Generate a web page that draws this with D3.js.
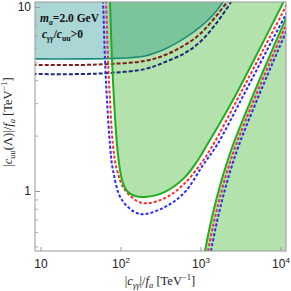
<!DOCTYPE html>
<html><head><meta charset="utf-8">
<script src="https://cdn.jsdelivr.net/npm/d3@7"></script>
<style>body{margin:0;background:#fff}svg{display:block}</style>
</head><body><div id="chart"></div>
<script>
// ---- data (c_gg/f_a [TeV^-1], |c_uu|/f_a [TeV^-1]) ----
const xTicks = [10, 100, 1000, 10000];
const xTickBase = ["10", "10", "10", "10"];
const xTickExp = ["", "2", "3", "4"];
const yTicks = [1, 10];
const yTickLabels = ["1", "10"];
const yMinor = [0.5, 0.6, 0.7, 0.8, 0.9, 2, 3, 4, 5, 6, 7, 8, 9];

// green contour (U-shaped region)
const greenU = [[73.5,11.5],[73.9,10.64],[78.3,5.15],[82.9,3.12],[90.4,1.78],[98.6,1.30],[107.4,1.105],[124,0.988],[152,0.939],[202,0.928],[360,0.99],[640,1.19],[931,1.474],[1205,1.778],[1754,2.34],[2547,3.12],[5236,5.69],[10440,10.25],[12000,11.6]];
const redU = [[65,11.5],[65.9,10.64],[69.8,5.15],[73.9,3.12],[80.5,1.778],[90.4,1.30],[113.8,1.0125],[185.6,0.861],[360,0.916],[640,1.105],[1044,1.437],[1433,1.778],[2858,3.12],[5875,5.69],[12050,10.38],[13500,11.6]];
const blueU = [[59.5,11.5],[60.4,10.64],[64.0,5.15],[67.8,3.12],[73.9,1.778],[80.5,1.30],[104.4,0.893],[175.2,0.750],[360,0.819],[640,0.988],[1075,1.384],[1607,1.778],[3207,3.12],[6592,5.69],[13520,10.38],[15000,11.6]];
// green contour (right branch)
const greenR = [[1106,0.444],[1138,0.472],[1315,0.645],[1571,0.893],[1950,1.252],[2547,1.778],[4276,3.12],[7390,5.48],[13000,9.63]];
const redR = [[1205,0.444],[1241,0.472],[1433,0.645],[1714,0.893],[2126,1.252],[2779,1.778],[4665,3.12],[8054,5.48],[14170,9.63]];
const blueR = [[1315,0.444],[1352,0.472],[1563,0.645],[1867,0.893],[2317,1.252],[3029,1.778],[5085,3.12],[8790,5.48],[15450,9.63]];
// teal bound and dashed variants
const tealB = [[8.0,5.22],[31.2,5.22],[73.9,5.25],[202,5.42],[360,5.91],[640,6.79],[986,7.78],[1393,8.93],[1911,10.64],[2050,11.3]];
const brownB = [[8.0,4.84],[31.2,4.84],[73.9,4.90],[202,5.09],[360,5.48],[640,6.22],[986,7.13],[1393,8.39],[2143,10.64],[2300,11.3]];
const navyB = [[8.0,4.32],[31.2,4.32],[73.9,4.38],[202,4.60],[360,5.02],[640,5.62],[986,6.45],[1518,7.98],[2405,10.64],[2580,11.3]];

const W = 291, H = 291;
const M = {l: 35, r: 286, t: 2, b: 251};
const x = d3.scaleLog().domain([8.531, 11722]).range([M.l, M.r]);
const y = d3.scaleLog().domain([0.4721, 10.64]).range([M.b, M.t]);

const svg = d3.select("#chart").append("svg").attr("width", W).attr("height", H)
  .style("font-family", "'Liberation Serif', 'DejaVu Serif', serif");
const defs = svg.append("defs");
defs.append("clipPath").attr("id", "plot").append("rect")
  .attr("x", M.l).attr("y", M.t).attr("width", M.r - M.l).attr("height", M.b - M.t);

const line = d3.line().x(d => x(d[0])).y(d => y(d[1])).curve(d3.curveCatmullRom.alpha(0.5));
const P = (a, b) => `L${x(a)},${y(b)}`;

const uPath = line(greenU) + "Z";
const rPath = line(greenR) + P(30000, 9.63) + P(30000, 0.3) + P(900, 0.3) + "Z";
const tPath = line(tealB) + P(2050, 15) + P(5, 15) + P(5, 5.22) + "Z";

defs.append("clipPath").attr("id", "uclip").append("path").attr("d", uPath);

const g = svg.append("g").attr("clip-path", "url(#plot)");
g.append("path").attr("d", uPath).attr("fill", "#b3e2ad");
g.append("path").attr("d", rPath).attr("fill", "#b3e2ad");
g.append("path").attr("d", tPath).attr("fill", "#aad6d5");
g.append("g").attr("clip-path", "url(#uclip)")
  .append("path").attr("d", tPath).attr("fill", "#7cc59b");

const dashed = [
  [brownB, "#7d1d1d", "4,2"], [navyB, "#1c2a7a", "4,2"],
  [blueU, "#2a2aff", "3,2"], [redU, "#ff2a2a", "3,2"],
  [blueR, "#2a2aff", "3,2"], [redR, "#ff2a2a", "3,2"]
];
dashed.forEach(([d, c, da]) => g.append("path").attr("d", line(d)).attr("fill", "none")
  .attr("stroke", c).attr("stroke-width", 2).attr("stroke-dasharray", da));
g.append("path").attr("d", line(tealB)).attr("fill", "none").attr("stroke", "#1a8c7c").attr("stroke-width", 1.6);
g.append("path").attr("d", line(greenU)).attr("fill", "none").attr("stroke", "#1fae1f").attr("stroke-width", 2);
g.append("path").attr("d", line(greenR)).attr("fill", "none").attr("stroke", "#1fae1f").attr("stroke-width", 2);

// frame
svg.append("rect").attr("x", M.l).attr("y", M.t).attr("width", M.r - M.l).attr("height", M.b - M.t)
  .attr("fill", "none").attr("stroke", "#999").attr("stroke-width", 1);

// axes
const xa = svg.append("g").attr("transform", `translate(0,${M.b})`)
  .call(d3.axisBottom(x).tickValues(xTicks).tickSizeInner(-4).tickSizeOuter(0).tickPadding(8).tickFormat(""));
xa.select(".domain").remove();
xa.selectAll(".tick line").attr("stroke", "#999");
xa.selectAll(".tick text").each(function(d, i) {
  const t = d3.select(this).attr("font-size", 12).attr("fill", "#222").attr("dy", "0.71em");
  t.append("tspan").text(xTickBase[i]);
  if (xTickExp[i]) t.append("tspan").attr("font-size", 8).attr("dy", -5).text(xTickExp[i]);
});

const ya = svg.append("g").attr("transform", `translate(${M.l},0)`)
  .call(d3.axisLeft(y).tickValues(yTicks).tickSizeInner(-5).tickSizeOuter(0).tickPadding(4)
    .tickFormat((d, i) => yTickLabels[i]));
ya.select(".domain").remove();
ya.selectAll(".tick line").attr("stroke", "#999");
ya.selectAll(".tick text").attr("font-size", 12).attr("fill", "#222");
const ym = svg.append("g").attr("transform", `translate(${M.l},0)`)
  .call(d3.axisLeft(y).tickValues(yMinor).tickSizeInner(-3).tickSizeOuter(0).tickFormat(""));
ym.select(".domain").remove();
ym.selectAll(".tick line").attr("stroke", "#aaa");

function rich(t, parts, fs) {
  let base = 0;
  parts.forEach(p => {
    const s = t.append("tspan").text(p.t);
    let off = p.sub ? 3 : p.sup ? -5 : 0;
    s.attr("dy", off - base); base = off;
    if (p.sub || p.sup) s.attr("font-size", fs * 0.68);
    if (p.i) s.attr("font-style", "italic");
  });
}

// axis titles
const xt = svg.append("text").attr("x", 160).attr("y", 285).attr("text-anchor", "middle")
  .attr("font-size", 12.5).attr("fill", "#222");
rich(xt, [{t: "|"}, {t: "c", i: 1}, {t: "γγ", sub: 1, i: 1}, {t: "|/"}, {t: "f", i: 1}, {t: "a", sub: 1, i: 1},
  {t: " [TeV"}, {t: "−1", sup: 1}, {t: "]"}], 12.5);
const yt = svg.append("text").attr("transform", "translate(12,122) rotate(-90)").attr("text-anchor", "middle")
  .attr("font-size", 12.5).attr("fill", "#222");
rich(yt, [{t: "|"}, {t: "c", i: 1}, {t: "uu", sub: 1}, {t: "(Λ)|/"}, {t: "f", i: 1}, {t: "a", sub: 1, i: 1},
  {t: " [TeV"}, {t: "−1", sup: 1}, {t: "]"}], 12.5);

// annotations
const a1 = svg.append("text").attr("x", 40).attr("y", 22).attr("font-size", 11.5).attr("font-weight", "bold").attr("fill", "#111");
rich(a1, [{t: "m", i: 1}, {t: "a", sub: 1, i: 1}, {t: "=2.0 GeV"}], 11.5);
const a2 = svg.append("text").attr("x", 42).attr("y", 38).attr("font-size", 11.5).attr("font-weight", "bold").attr("fill", "#111");
rich(a2, [{t: "c", i: 1}, {t: "γγ", sub: 1, i: 1}, {t: "/"}, {t: "c", i: 1}, {t: "uu", sub: 1}, {t: ">0"}], 11.5);
</script>
</body></html>
